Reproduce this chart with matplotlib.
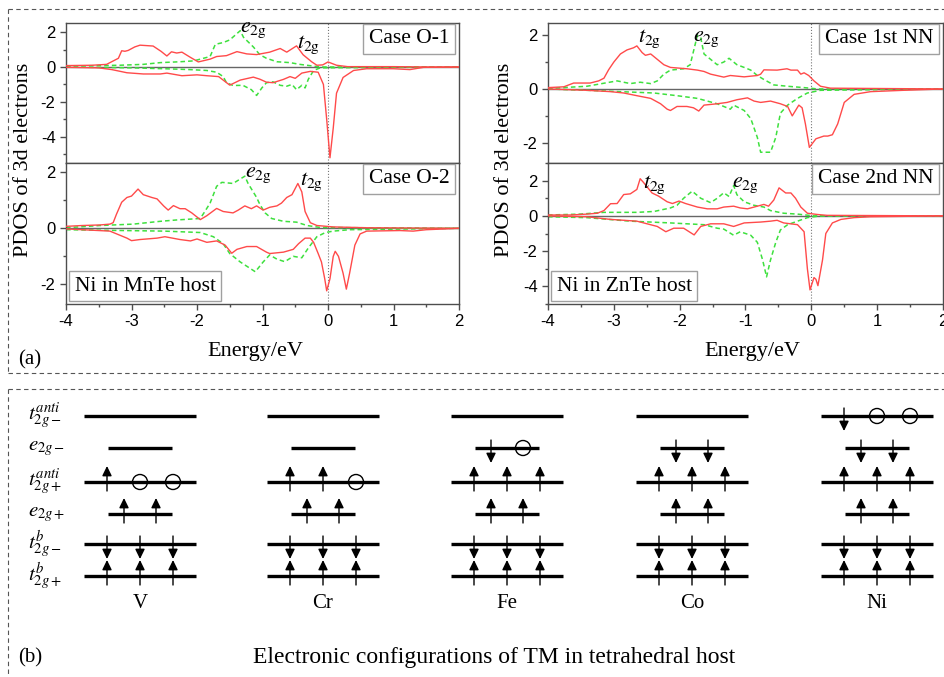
import numpy as np
import matplotlib
matplotlib.use("Agg")
import matplotlib.pyplot as plt
from matplotlib.ticker import MultipleLocator
from matplotlib.patches import Circle

plt.rcParams['font.family'] = ['Liberation Serif', 'DejaVu Serif']
plt.rcParams['mathtext.fontset'] = 'stix'

W, H = 944, 677

# ---------------- (a) PDOS data ----------------
# Case O-1 (Ni in MnTe)
o1_t2g_up_e = [-4.0, -3.6, -3.38, -3.2, -3.15, -3.1, -3.05, -2.95, -2.87, -2.67, -2.55, -2.46, -2.39, -2.31,
               -2.23, -2.1, -1.98, -1.8, -1.7, -1.55, -1.39, -1.24, -1.09, -0.89, -0.73, -0.63, -0.48, -0.38,
               -0.25, -0.17, -0.08, 0.0, 0.13, 0.3, 1.0, 1.5, 2.0]
o1_t2g_up = [0.08, 0.1, 0.15, 0.5, 0.93, 0.9, 0.95, 1.15, 1.25, 1.2, 0.9, 0.63, 0.87, 0.8,
             0.85, 0.55, 0.29, 0.45, 0.6, 0.65, 0.88, 0.75, 0.71, 0.85, 1.06, 0.85, 1.21, 0.7,
             0.3, 0.1, 0.12, 0.29, 0.1, 0.02, 0.02, 0.0, 0.0]
o1_t2g_dn_e = [-4.0, -3.5, -3.3, -3.07, -2.82, -2.56, -2.46, -2.23, -2.0, -1.85, -1.67, -1.5, -1.45, -1.34,
               -1.14, -1.04, -0.94, -0.84, -0.68, -0.58, -0.5, -0.4, -0.27, -0.15, -0.07, -0.02, 0.03, 0.08,
               0.13, 0.23, 0.39, 0.59, 1.0, 1.25, 1.46, 2.0]
o1_t2g_dn = [-0.02, -0.05, -0.15, -0.33, -0.4, -0.4, -0.35, -0.5, -0.45, -0.5, -0.55, -1.04, -0.95, -0.75,
             -0.58, -0.7, -0.87, -0.9, -0.71, -0.55, -0.65, -0.35, -0.25, -0.3, -1.0, -3.0, -5.2, -3.5,
             -1.5, -0.6, -0.2, -0.1, -0.1, -0.15, -0.02, 0.0]
o1_e2g_up_e = [-4.0, -3.18, -2.82, -2.56, -2.26, -2.05, -1.95, -1.8, -1.72, -1.6, -1.5, -1.34, -1.29, -1.14,
               -1.04, -0.94, -0.78, -0.58, -0.43, -0.22, -0.12, 2.0]
o1_e2g_up = [0.05, 0.1, 0.15, 0.25, 0.3, 0.35, 0.45, 0.6, 1.3, 1.4, 1.55, 2.08, 1.7, 1.15,
             0.7, 0.5, 0.3, 0.25, 0.15, 0.05, 0.0, 0.0]
o1_e2g_dn_e = [-4.0, -3.0, -2.5, -2.1, -1.85, -1.7, -1.6, -1.55, -1.45, -1.3, -1.17, -1.09, -1.01, -0.94,
               -0.84, -0.73, -0.63, -0.55, -0.48, -0.4, -0.35, -0.3, -0.22, -0.12, 2.0]
o1_e2g_dn = [0.0, -0.05, -0.1, -0.15, -0.2, -0.3, -0.55, -0.9, -1.06, -1.05, -1.3, -1.63, -1.2, -0.9,
             -0.85, -1.05, -1.1, -1.0, -1.3, -1.05, -1.2, -0.7, -0.2, -0.05, 0.0]

# Case O-2 (Ni in MnTe)
o2_t2g_up_e = [-4.0, -3.75, -3.48, -3.33, -3.28, -3.23, -3.15, -3.07, -3.0, -2.9, -2.82, -2.69, -2.61, -2.51,
               -2.44, -2.36, -2.26, -2.18, -2.08, -1.95, -1.85, -1.7, -1.6, -1.45, -1.37, -1.27, -1.17, -1.09,
               -0.99, -0.89, -0.78, -0.71, -0.63, -0.55, -0.46, -0.4, -0.35, -0.27, -0.17, 0.08, 0.59, 2.0]
o2_t2g_up = [0.07, 0.1, 0.12, 0.15, 0.2, 0.5, 0.93, 1.1, 1.15, 1.4, 1.2, 1.1, 1.05, 0.8,
             0.65, 0.81, 0.7, 0.7, 0.55, 0.31, 0.45, 0.71, 0.6, 0.55, 0.65, 0.8, 0.7, 0.8,
             0.65, 0.75, 0.8, 0.9, 1.1, 1.2, 1.6, 1.3, 0.6, 0.2, 0.1, 0.05, 0.02, 0.0]
o2_t2g_dn_e = [-4.0, -3.33, -3.07, -3.0, -2.87, -2.61, -2.49, -2.26, -2.1, -2.0, -1.85, -1.7, -1.57, -1.47,
               -1.39, -1.24, -1.09, -0.94, -0.89, -0.68, -0.53, -0.45, -0.35, -0.27, -0.22, -0.15, -0.1, -0.05,
               -0.02, 0.03, 0.08, 0.11, 0.16, 0.23, 0.28, 0.33, 0.41, 0.49, 0.59, 1.1, 1.3, 1.5, 2.0]
o2_t2g_dn = [-0.02, -0.1, -0.35, -0.44, -0.4, -0.35, -0.3, -0.4, -0.45, -0.38, -0.5, -0.45, -0.6, -0.89,
             -0.75, -0.65, -0.65, -0.85, -0.9, -0.85, -0.75, -0.55, -0.35, -0.35, -0.5, -0.9, -1.2, -1.8,
             -2.23, -1.8, -1.0, -0.82, -1.0, -1.6, -2.17, -1.6, -0.6, -0.2, -0.1, -0.08, -0.1, -0.05, 0.0]
o2_e2g_up_e = [-4.0, -3.48, -2.97, -2.56, -2.3, -1.95, -1.88, -1.8, -1.75, -1.7, -1.62, -1.45, -1.27, -1.22,
               -1.09, -1.04, -0.96, -0.86, -0.68, -0.48, -0.32, -0.12, 2.0]
o2_e2g_up = [0.02, 0.1, 0.15, 0.25, 0.3, 0.35, 0.6, 0.9, 1.2, 1.5, 1.64, 1.6, 1.86, 1.6,
             1.1, 0.85, 0.55, 0.35, 0.25, 0.22, 0.1, 0.03, 0.0]
o2_e2g_dn_e = [-4.0, -2.5, -1.95, -1.75, -1.6, -1.5, -1.34, -1.11, -0.99, -0.89, -0.78, -0.66, -0.53, -0.4,
               -0.3, -0.17, -0.04, 0.08, 0.33, 2.0]
o2_e2g_dn = [-0.05, -0.1, -0.15, -0.3, -0.55, -0.9, -1.2, -1.55, -1.2, -0.95, -1.1, -1.19, -1.0, -1.05,
             -0.7, -0.3, -0.15, -0.1, -0.05, 0.0]

# Case 1st NN (Ni in ZnTe)
n1_t2g_up_e = [-4.0, -3.76, -3.61, -3.36, -3.23, -3.15, -3.08, -3.0, -2.9, -2.8, -2.7, -2.65, -2.57, -2.52,
               -2.44, -2.34, -2.24, -2.14, -1.89, -1.73, -1.63, -1.53, -1.33, -1.23, -1.02, -0.82, -0.77, -0.72,
               -0.52, -0.37, -0.31, -0.21, -0.16, -0.11, -0.04, 0.04, 0.14, 0.29, 2.0]
n1_t2g_up = [0.05, 0.08, 0.22, 0.22, 0.3, 0.4, 0.71, 1.0, 1.3, 1.45, 1.53, 1.6, 1.35, 1.25,
             1.3, 1.1, 0.9, 0.8, 0.75, 0.7, 0.65, 0.55, 0.44, 0.5, 0.45, 0.5, 0.55, 0.71,
             0.7, 0.75, 0.7, 0.7, 0.55, 0.6, 0.5, 0.3, 0.1, 0.03, 0.0]
n1_t2g_dn_e = [-4.0, -3.41, -3.05, -2.85, -2.65, -2.44, -2.29, -2.19, -2.14, -2.04, -1.89, -1.79, -1.71, -1.63,
               -1.43, -1.28, -1.13, -0.97, -0.87, -0.77, -0.62, -0.47, -0.36, -0.29, -0.19, -0.14, -0.09, -0.03,
               0.07, 0.19, 0.25, 0.32, 0.4, 0.5, 0.65, 0.9, 1.4, 2.0]
n1_t2g_dn = [0.0, -0.05, -0.1, -0.15, -0.25, -0.35, -0.55, -0.75, -0.8, -0.65, -0.65, -0.7, -0.82, -0.6,
             -0.55, -0.5, -0.4, -0.33, -0.45, -0.5, -0.45, -0.55, -0.65, -1.0, -0.6, -0.7, -1.3, -2.17,
             -1.85, -1.75, -1.75, -1.7, -1.3, -0.5, -0.2, -0.1, -0.05, 0.0]
n1_e2g_up_e = [-4.0, -3.41, -2.95, -2.75, -2.6, -2.44, -2.34, -2.24, -2.14, -1.94, -1.84, -1.78, -1.73, -1.68,
               -1.63, -1.53, -1.43, -1.33, -1.25, -1.13, -1.02, -0.92, -0.82, -0.72, -0.57, -0.36, -0.11, 0.1, 2.0]
n1_e2g_up = [0.02, 0.1, 0.3, 0.2, 0.25, 0.2, 0.3, 0.55, 0.7, 0.75, 0.9, 1.5, 2.0, 1.9,
             1.3, 1.1, 0.9, 1.0, 1.14, 0.9, 0.8, 0.7, 0.5, 0.35, 0.15, 0.1, 0.05, 0.0, 0.0]
n1_e2g_dn_e = [-4.0, -3.41, -2.9, -2.39, -2.04, -1.73, -1.43, -1.23, -1.18, -1.02, -0.92, -0.82, -0.77, -0.62,
               -0.54, -0.47, -0.36, -0.21, -0.06, 0.14, 2.0]
n1_e2g_dn = [0.0, -0.05, -0.1, -0.15, -0.25, -0.35, -0.55, -0.75, -0.6, -0.8, -1.1, -1.8, -2.35, -2.35,
             -1.8, -0.9, -0.6, -0.35, -0.15, -0.05, 0.0]

# Case 2nd NN (Ni in ZnTe)
n2_t2g_up_e = [-4.0, -3.66, -3.41, -3.25, -3.15, -3.05, -2.95, -2.85, -2.75, -2.65, -2.6, -2.55, -2.42, -2.32,
               -2.19, -2.11, -2.01, -1.91, -1.73, -1.58, -1.43, -1.33, -1.18, -1.08, -0.97, -0.82, -0.72, -0.65,
               -0.57, -0.49, -0.39, -0.31, -0.24, -0.16, -0.06, 0.09, 0.24, 2.0]
n2_t2g_up = [0.05, 0.05, 0.1, 0.15, 0.3, 0.69, 0.7, 1.21, 1.25, 1.5, 2.11, 1.9, 1.3, 1.12,
             0.8, 0.7, 0.84, 0.7, 0.5, 0.4, 0.4, 0.5, 0.55, 0.45, 0.4, 0.55, 0.65, 0.55,
             0.9, 1.59, 1.3, 1.3, 1.0, 0.5, 0.15, 0.08, 0.03, 0.0]
n2_t2g_dn_e = [-4.0, -3.41, -3.05, -2.65, -2.34, -2.21, -2.09, -1.94, -1.78, -1.68, -1.53, -1.33, -1.18, -1.02,
               -0.77, -0.62, -0.52, -0.42, -0.21, -0.11, -0.06, -0.02, 0.04, 0.07, 0.1, 0.17, 0.22, 0.32,
               0.45, 0.65, 0.9, 2.0]
n2_t2g_dn = [0.0, -0.05, -0.2, -0.3, -0.6, -0.9, -0.7, -0.7, -1.08, -0.6, -0.45, -0.45, -0.6, -0.4,
             -0.35, -0.3, -0.25, -0.4, -0.5, -0.9, -3.0, -4.2, -3.5, -3.6, -3.96, -2.5, -1.0, -0.4,
             -0.2, -0.1, -0.05, 0.0]
n2_e2g_up_e = [-4.0, -3.51, -3.15, -2.65, -2.39, -2.14, -2.04, -1.94, -1.81, -1.68, -1.53, -1.43, -1.33, -1.25,
               -1.18, -1.13, -1.02, -0.87, -0.72, -0.62, -0.42, -0.21, 0.04, 2.0]
n2_e2g_up = [0.05, 0.1, 0.2, 0.2, 0.25, 0.45, 0.6, 1.0, 1.4, 1.0, 0.75, 1.0, 1.31, 1.1,
             1.72, 1.2, 0.8, 0.6, 0.5, 0.3, 0.15, 0.1, 0.0, 0.0]
n2_e2g_dn_e = [-4.0, -3.41, -2.75, -2.14, -1.89, -1.63, -1.43, -1.33, -1.18, -1.08, -0.92, -0.82, -0.74, -0.68,
               -0.62, -0.54, -0.47, -0.36, -0.21, -0.06, 0.14, 2.0]
n2_e2g_dn = [-0.05, -0.1, -0.3, -0.4, -0.45, -0.5, -0.7, -0.75, -1.1, -0.9, -1.1, -1.5, -2.5, -3.46,
             -2.5, -1.5, -0.8, -0.5, -0.3, -0.1, 0.0, 0.0]

case_labels = ['Case O-1', 'Case O-2', 'Case 1st NN', 'Case 2nd NN']
host_labels = ['Ni in MnTe host', 'Ni in ZnTe host']

# ---------------- (b) level diagram data ----------------
elements = ['V', 'Cr', 'Fe', 'Co', 'Ni']
level_names = [r'$t_{2g-}^{anti}$', r'$e_{2g-}$', r'$t_{2g+}^{anti}$',
               r'$e_{2g+}$', r'$t_{2g-}^{b}$', r'$t_{2g+}^{b}$']
level_degen = [3, 2, 3, 2, 3, 3]
# u = spin up, d = spin down, o = hole, ' ' = empty
occupation = {
    'V':  ['   ', '  ', 'uoo', 'uu', 'ddd', 'uuu'],
    'Cr': ['   ', '  ', 'uuo', 'uu', 'ddd', 'uuu'],
    'Fe': ['   ', 'do', 'uuu', 'uu', 'ddd', 'uuu'],
    'Co': ['   ', 'dd', 'uuu', 'uu', 'ddd', 'uuu'],
    'Ni': ['doo', 'dd', 'uuu', 'uu', 'ddd', 'uuu'],
}

RED = '#ff4a4a'
GREEN = '#3ee03e'
FRAME = '#4d4d4d'

fig = plt.figure(figsize=(W / 100, H / 100), dpi=100)

# background axes in pixel units (dashed frames + level diagram)
axb = fig.add_axes([0, 0, 1, 1])
axb.set_xlim(0, W)
axb.set_ylim(H, 0)
axb.axis('off')
dash = dict(color='#555555', lw=0.8, ls=(0, (4, 3)))
axb.plot([8, W], [9, 9], **dash)
axb.plot([8, 8], [9, 373], **dash)
axb.plot([8, W], [373, 373], **dash)
axb.plot([8, W], [389, 389], **dash)
axb.plot([8, 8], [389, H], **dash)


def px_axes(left, top, right, bottom):
    return fig.add_axes([left / W, 1 - bottom / H, (right - left) / W, (bottom - top) / H])


panels = [
    dict(box=(66, 23, 459, 163), ylim=(-5.5, 2.52), curves=(o1_t2g_up_e, o1_t2g_up, o1_t2g_dn_e, o1_t2g_dn,
         o1_e2g_up_e, o1_e2g_up, o1_e2g_dn_e, o1_e2g_dn), top=True,
         notes=[(r'$e_{\rm 2g}$', -1.35, 2.1), (r'$t_{\rm 2g}$', -0.47, 1.3)]),
    dict(box=(66, 163, 459, 304), ylim=(-2.7, 2.33), curves=(o2_t2g_up_e, o2_t2g_up, o2_t2g_dn_e, o2_t2g_dn,
         o2_e2g_up_e, o2_e2g_up, o2_e2g_dn_e, o2_e2g_dn), top=False,
         notes=[(r'$e_{\rm 2g}$', -1.27, 1.9), (r'$t_{\rm 2g}$', -0.42, 1.65)]),
    dict(box=(548, 23, 943, 163), ylim=(-2.75, 2.45), curves=(n1_t2g_up_e, n1_t2g_up, n1_t2g_dn_e, n1_t2g_dn,
         n1_e2g_up_e, n1_e2g_up, n1_e2g_dn_e, n1_e2g_dn), top=True,
         notes=[(r'$t_{\rm 2g}$', -2.63, 1.85), (r'$e_{\rm 2g}$', -1.8, 1.85)]),
    dict(box=(548, 163, 943, 304), ylim=(-5.0, 3.0), curves=(n2_t2g_up_e, n2_t2g_up, n2_t2g_dn_e, n2_t2g_dn,
         n2_e2g_up_e, n2_e2g_up, n2_e2g_dn_e, n2_e2g_dn), top=False,
         notes=[(r'$t_{\rm 2g}$', -2.55, 1.75), (r'$e_{\rm 2g}$', -1.2, 1.75)]),
]

label_box = dict(boxstyle='square,pad=0.25', fc='white', ec='#a0a0a0', lw=1)

for i, p in enumerate(panels):
    ax = px_axes(*p['box'])
    tu_e, tu, td_e, td, eu_e, eu, ed_e, ed = p['curves']
    ax.axhline(0, color='#666666', lw=1, zorder=1)
    ax.axvline(0, color='#777777', lw=0.8, ls=':', zorder=1)
    ax.plot(eu_e, eu, color=GREEN, lw=1.1, ls=(0, (3, 2)), zorder=2)
    ax.plot(ed_e, ed, color=GREEN, lw=1.1, ls=(0, (3, 2)), zorder=2)
    ax.plot(tu_e, tu, color=RED, lw=1.0, zorder=3)
    ax.plot(td_e, td, color=RED, lw=1.0, zorder=3)
    ax.set_xlim(-4, 2)
    ax.set_ylim(*p['ylim'])
    ax.xaxis.set_major_locator(MultipleLocator(1))
    ax.xaxis.set_minor_locator(MultipleLocator(0.5))
    ax.yaxis.set_major_locator(MultipleLocator(2))
    ax.yaxis.set_minor_locator(MultipleLocator(1))
    for s in ax.spines.values():
        s.set_color(FRAME)
        s.set_linewidth(1.0)
    ax.tick_params(which='both', direction='out', color=FRAME, width=1, top=False, right=False)
    ax.tick_params(which='major', length=4, labelsize=12)
    ax.tick_params(which='minor', length=2.5)
    if p['top']:
        ax.tick_params(axis='x', which='both', bottom=False, labelbottom=False)
    else:
        ax.set_xticks([-4, -3, -2, -1, 0, 1, 2])
        ax.set_xticklabels(['-4', '-3', '-2', '-1', '0', '1', '2'], family='Liberation Sans')
    ax.set_yticks(ax.get_yticks())
    ax.set_yticklabels([f'{int(v)}' if v >= 0 else f'-{int(-v)}' for v in ax.get_yticks()],
                       family='Liberation Sans')
    ax.set_ylim(*p['ylim'])
    ax.text(0.975, 0.955, case_labels[i], transform=ax.transAxes, ha='right', va='top',
            fontsize=15.5, bbox=label_box, zorder=5)
    if not p['top']:
        ax.text(0.022, 0.06, host_labels[i // 2], transform=ax.transAxes, ha='left', va='bottom',
                fontsize=15.5, bbox=label_box, zorder=5)
    for txt, xe, ye in p['notes']:
        ax.text(xe, ye, txt, fontsize=16, ha='left', va='center', zorder=4)

for xc in (24, 505):
    fig.text(xc / W, 1 - 160 / H, 'PDOS of 3d electrons', rotation=90, ha='center', va='center', fontsize=16)
for xc in (255, 752):
    fig.text(xc / W, 1 - 352 / H, 'Energy/eV', ha='center', va='center', fontsize=16)
fig.text(18 / W, 1 - 360 / H, '(a)', ha='left', va='center', fontsize=15)

# ---------------- (b) electronic configuration diagram ----------------
col_x = [140, 323, 507, 692, 877]
level_y = [416, 448, 482, 514, 544, 576]
half_long, half_short = 56, 32
arrow_kw = dict(arrowstyle='-|>,head_length=0.45,head_width=0.22', color='black', lw=1,
                shrinkA=0, shrinkB=0, mutation_scale=13)

for name, yl in zip(level_names, level_y):
    axb.text(28, yl, name, fontsize=15, ha='left', va='center')

for el, xc in zip(elements, col_x):
    for li, (yl, deg) in enumerate(zip(level_y, level_degen)):
        hw = half_long if deg == 3 else half_short
        axb.plot([xc - hw, xc + hw], [yl, yl], color='black', lw=2.4, solid_capstyle='butt')
        slots = [xc - 33, xc, xc + 33] if deg == 3 else [xc - 16, xc + 16]
        for sx, occ in zip(slots, occupation[el][li]):
            if occ == 'u':
                axb.annotate('', xy=(sx, yl - 16), xytext=(sx, yl + 9), arrowprops=arrow_kw)
            elif occ == 'd':
                axb.annotate('', xy=(sx, yl + 15), xytext=(sx, yl - 8), arrowprops=arrow_kw)
            elif occ == 'o':
                axb.add_patch(Circle((sx, yl), 7.5, fc='none', ec='black', lw=1))
    axb.text(xc, 604, el, fontsize=15, ha='center', va='center')

axb.text(18, 658, '(b)', fontsize=15, ha='left', va='center')
axb.text(494, 658, 'Electronic configurations of TM in tetrahedral host', fontsize=17,
         ha='center', va='center')

fig.savefig('out.png', dpi=100)
